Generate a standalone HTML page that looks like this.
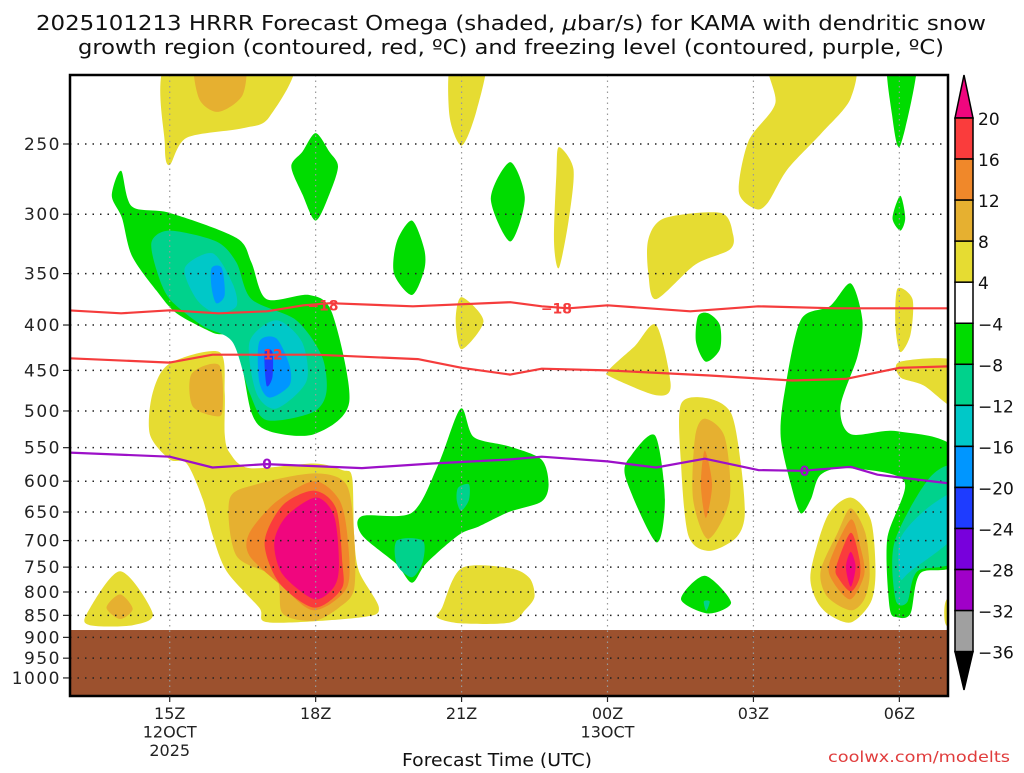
<!DOCTYPE html>
<html><head><meta charset="utf-8">
<style>
html,body{margin:0;padding:0;background:#fff;}
body{width:1024px;height:768px;overflow:hidden;font-family:"Liberation Sans","DejaVu Sans",sans-serif;}
svg text{font-family:"DejaVu Sans","Liberation Sans",sans-serif;}
</style></head>
<body>
<svg id="chart" width="1024" height="768" viewBox="0 0 1024 768" xmlns="http://www.w3.org/2000/svg">
<text x="36" y="30" font-size="20" textLength="950" lengthAdjust="spacingAndGlyphs" fill="#111">2025101213 HRRR Forecast Omega (shaded, <tspan font-style="italic">μ</tspan>bar/s) for KAMA with dendritic snow</text>
<text x="78" y="54" font-size="20" textLength="866" lengthAdjust="spacingAndGlyphs" fill="#111">growth region (contoured, red, ºC) and freezing level (contoured, purple, ºC)</text>
<defs><clipPath id="plotclip"><rect x="70" y="75" width="878" height="621"/></clipPath></defs>
<g id="plot" clip-path="url(#plotclip)"></g>
<g id="overlay"></g>
<text x="402" y="766" font-size="18" textLength="190" lengthAdjust="spacingAndGlyphs" fill="#111">Forecast Time (UTC)</text>
<text x="828" y="762" font-size="15" textLength="182" lengthAdjust="spacingAndGlyphs" fill="#e03c3c">coolwx.com/modelts</text>
</svg>
<script>
// ---- axis data ----
const hourStart = 12.95, hourEnd = 31;
const pTop = 209, pBottom = 1048;
const yTicks = [250,300,350,400,450,500,550,600,650,700,750,800,850,900,950,1000];
const xTickHours = [15,18,21,24,27,30];
const xTickLabels = ["15Z","18Z","21Z","00Z","03Z","06Z"];
const xTickSub1 = ["12OCT","","","13OCT","",""];
const xTickSub2 = ["2025","","","","",""];
const groundPressure = 883;
const cbLevels = [20,16,12,8,4,-4,-8,-12,-16,-20,-24,-28,-32,-36];
const cbColors = ["#fa3c3c","#f0882a","#e6b030","#e6dc32","#ffffff","#00dc00","#00d28c","#00c8c8","#0096ff","#1e3cff","#7800dc","#a000c8","#a0a0a0"];

// ---- omega shaded regions: [hour, pressure] vertices ----
const yellowTop16 = [[15,200],[17.5,200],[17.05,233],[16.5,240],[15.35,246],[15,264],[14.9,251]];
const orangeTop16 = [[15.55,200],[16.5,200],[16.5,220],[16.0,230],[15.6,222]];
const greenLeaf18 = [[18,243],[18.28,255],[18.46,265],[18.28,285],[18,305],[17.73,285],[17.5,265],[17.73,255]];
const greenNW = [[14.0,268],[14.22,294],[15,299],[16.37,319],[16.68,340],[16.99,374],[17.87,370],[18.34,388],[18.69,489],[17.97,531],[17.05,527],[16.68,502],[16.37,418],[15.88,408],[15.14,388],[14.73,366],[14.22,334],[14.02,303],[13.81,286]];
const tealNW = [[14.63,322],[15,313],[15.96,322],[16.37,340],[16.68,374],[17.6,395],[18.13,434],[18.22,477],[17.93,502],[16.99,512],[16.64,477],[16.29,418],[15.68,401],[15,374],[14.73,347]];
const cyanNW1 = [[15.31,345],[15.88,332],[16.29,359],[16.37,381],[15.96,388],[15.55,374]];
const blueNW1 = [[15.86,345],[16.07,345],[16.13,370],[15.96,378],[15.86,363]];
const cyanNW2 = [[16.64,418],[17.19,395],[17.72,418],[17.81,463],[17.19,497],[16.78,477]];
const blueNW2 = [[16.84,418],[17.19,414],[17.46,444],[17.46,468],[17.05,483],[16.84,463]];
const dblueNW = [[16.95,429],[17.11,429],[17.11,458],[16.99,468]];
const yellowBig = [[15,442],[16.02,429],[16.13,477],[16.13,531],[16.23,557],[16.64,580],[17.97,573],[18.55,583],[18.75,594],[18.79,690],[18.89,758],[19.3,833],[18.95,854],[17.05,866],[16.84,833],[16.17,758],[15.88,690],[15.68,629],[15.35,573],[15,567],[14.59,531],[14.65,477]];
const orangeUpper = [[15.45,454],[16.02,444],[16.09,497],[15.96,507],[15.47,494]];
const orangeBig = [[16.23,629],[16.78,605],[17.97,588],[18.63,605],[18.79,690],[18.79,794],[18.48,833],[17.97,862],[17.32,846],[17.19,772],[16.37,728]];
const dorangeBig = [[16.64,686],[17.19,633],[17.97,600],[18.48,629],[18.65,690],[18.65,789],[17.97,839],[17.32,789],[16.64,728]];
const redBig = [[16.95,703],[17.32,639],[17.97,615],[18.42,644],[18.55,743],[18.53,794],[17.97,833],[17.25,781]];
const magBig = [[17.15,703],[17.4,657],[18.01,626],[18.38,657],[18.48,743],[18.38,789],[17.97,815],[17.32,764]];
const yellowBL = [[13.3,846],[13.98,758],[14.65,846],[14.24,872],[13.36,872]];
const orangeBL = [[13.7,833],[13.98,805],[14.24,836],[13.98,858]];
const green21 = [[18.95,657],[19.98,651],[20.53,573],[20.98,497],[21.25,535],[21.97,548],[22.64,567],[22.79,605],[22.64,633],[21.97,650],[21.35,675],[20.94,690],[20.27,743],[19.98,781],[19.65,743],[18.95,690]];
const teal21a = [[20.93,610],[21.15,605],[21.15,630],[20.99,648],[20.9,630]];
const teal21b = [[19.67,700],[20.2,700],[20.2,740],[19.98,770],[19.67,745]];
const yellow22 = [[20.6,833],[21.0,752],[22,752],[22.4,772],[22.5,810],[22.3,839],[22,866],[21.0,868],[20.5,855]];
const yellowTop21 = [[20.8,200],[21.5,200],[21.3,230],[21.0,251],[20.75,232]];
const greenLeaf22 = [[22,262],[22.3,288],[22,322],[21.6,288]];
const greenLeaf20 = [[19.98,305],[20.23,328],[20.23,347],[19.98,370],[19.61,350],[19.67,322]];
const yellow21 = [[21.0,372],[21.45,396],[21.0,426],[20.88,395]];
const yellow23 = [[23,252],[23.3,267],[23.2,305],[23,345],[22.9,322],[22.95,270]];
const yellow00 = [[24.84,320],[25.18,303],[26.33,299],[26.58,316],[26.51,329],[25.8,342],[25.0,374],[24.84,350]];
const yellowTop03 = [[27.35,200],[29,200],[29,222],[28.4,243],[27.7,267],[27.3,291],[27.05,296],[26.7,283],[26.9,248],[27.45,225]];
const greenTop06 = [[29.76,200],[30.37,200],[30.02,251],[29.85,232]];
const greenLeaf06 = [[30.02,286],[30.12,303],[30.02,313],[29.86,303]];
const yellow06 = [[29.96,364],[30.27,374],[30.23,410],[30.02,429],[29.92,401]];
const yellowRight = [[30.02,440],[31.2,440],[31.2,497],[30.5,468],[30.02,458]];
const green01 = [[25.86,391],[26.07,388],[26.31,400],[26.31,426],[26.02,440],[25.82,418]];
const yellow24 = [[25.0,400],[25.3,468],[25.0,480],[24.08,458],[24.02,450],[24.55,423]];
const greenBigR = [[29.0,359],[29.24,395],[29.14,434],[28.79,494],[29.0,531],[29.96,527],[31.2,557],[31.2,736],[30.43,762],[30.23,846],[29.96,854],[29.8,833],[29.75,697],[30.1,600],[28.93,580],[28.38,590],[28.18,629],[27.97,652],[27.77,605],[27.56,535],[27.64,476],[27.97,395],[28.57,381]];
const tealR = [[31.2,584],[30.63,594],[29.9,703],[29.92,815],[30.16,822],[30.37,758],[31.2,731]];
const cyanR = [[31.2,618],[30.57,644],[30.02,697],[30.02,772],[30.23,758],[31.2,686]];
const green00 = [[24.98,533],[25.18,629],[25.0,703],[24.37,594],[24.5,560]];
const yellow02 = [[25.51,491],[26.07,484],[26.54,503],[26.74,573],[26.82,657],[26.62,697],[26.07,719],[25.66,690],[25.51,573]];
const orange02 = [[26.0,510],[26.41,535],[26.51,629],[26.07,697],[25.76,629],[25.8,535]];
const dorange02 = [[26.0,554],[26.15,605],[26.02,660],[25.92,605]];
const green02b = [[25.51,815],[26.0,767],[26.54,822],[26.07,846]];
const teal02b = [[25.98,820],[26.1,820],[26.03,840]];
const yellow05 = [[28.18,758],[28.52,657],[29.0,626],[29.41,663],[29.51,758],[29.41,822],[29.0,866],[28.52,846],[28.26,810]];
const orange05 = [[28.38,758],[28.73,686],[29.0,644],[29.3,686],[29.39,764],[29.28,815],[29.0,839],[28.52,810]];
const dorange05 = [[28.56,743],[29.0,663],[29.2,712],[29.28,764],[29.0,815],[28.65,781]];
const red05 = [[28.7,750],[29.0,686],[29.18,735],[29.18,772],[29.0,799],[28.75,772]];
const mag05 = [[29.0,721],[29.1,750],[29.0,789],[28.9,750]];
const yellowBR = [[30.95,820],[31.2,800],[31.2,880],[30.95,870]];

// ---- contour lines ----
const dgz18Hours = [12.9,14,15,16,17,17.75,18.3,20,22,22.65,23.2,24,25.7,27.1,28.7,31.2];
const dgz18Press = [385,388,385,388,386,380,378,381,377,381,383,380,386,381,383,383];
const dgz12Hours = [12.9,15,15.88,17,18,20.1,21,22,22.65,24,26.1,27.8,28.9,30,31.2];
const dgz12Press = [436,441,432,432,432,437,447,455,448,450,456,462,460,447,445];
const frzHours = [12.9,15,15.88,16.99,18.95,20.4,22,22.65,24,25,26,27.1,28,29,29.55,31.2];
const frzPress = [557,563,579,574,580,573,567,563,570,579,566,583,584,578,590,605];

const L = 70, R = 948, T = 75, B = 696;
const xs = h => L + (h - hourStart) / (hourEnd - hourStart) * (R - L);
const ys = p => T + Math.log(p / pTop) / Math.log(pBottom / pTop) * (B - T);
const NS = "http://www.w3.org/2000/svg";
const plot = document.getElementById('plot');
const overlay = document.getElementById('overlay');
const svg = document.getElementById('chart');
function mk(tag, attrs, parent) { const e = document.createElementNS(NS, tag); for (const k in attrs) e.setAttribute(k, attrs[k]); (parent || svg).appendChild(e); return e; }

function smoothPath(pts) {
  const P = pts.map(q => [xs(q[0]), ys(q[1])]);
  const n = P.length; let d = `M${P[0][0].toFixed(1)},${P[0][1].toFixed(1)}`;
  for (let i = 0; i < n; i++) {
    const p0 = P[(i - 1 + n) % n], p1 = P[i], p2 = P[(i + 1) % n], p3 = P[(i + 2) % n];
    const c1 = [p1[0] + (p2[0] - p0[0]) / 7, p1[1] + (p2[1] - p0[1]) / 7];
    const c2 = [p2[0] - (p3[0] - p1[0]) / 7, p2[1] - (p3[1] - p1[1]) / 7];
    d += ` C${c1[0].toFixed(1)},${c1[1].toFixed(1)} ${c2[0].toFixed(1)},${c2[1].toFixed(1)} ${p2[0].toFixed(1)},${p2[1].toFixed(1)}`;
  }
  return d + 'Z';
}
const Y = "#e6dc32", O8 = "#e6b030", O12 = "#f0882a", RD = "#fa3c3c", MG = "#f0067e", G = "#00dc00", TE = "#00d28c", CY = "#00c8c8", BL = "#0096ff", DB = "#1e3cff";
const regions = [
  ["yellow-top-16z", yellowTop16, Y], ["orange-top-16z", orangeTop16, O8],
  ["green-leaf-18z", greenLeaf18, G],
  ["green-nw", greenNW, G], ["teal-nw", tealNW, TE], ["cyan-nw-1", cyanNW1, CY], ["blue-nw-1", blueNW1, BL],
  ["cyan-nw-2", cyanNW2, CY], ["blue-nw-2", blueNW2, BL], ["darkblue-nw", dblueNW, DB],
  ["yellow-big", yellowBig, Y], ["orange-upper", orangeUpper, O8], ["orange-big", orangeBig, O8],
  ["dorange-big", dorangeBig, O12], ["red-big", redBig, RD], ["magenta-big", magBig, MG],
  ["yellow-bl", yellowBL, Y], ["orange-bl", orangeBL, O8],
  ["green-21z", green21, G], ["teal-21z-a", teal21a, TE], ["teal-21z-b", teal21b, TE],
  ["yellow-22z", yellow22, Y], ["yellow-top-21z", yellowTop21, Y], ["green-leaf-22z", greenLeaf22, G],
  ["green-leaf-20z", greenLeaf20, G], ["yellow-21z", yellow21, Y], ["yellow-23z", yellow23, Y],
  ["yellow-00z", yellow00, Y], ["yellow-top-03z", yellowTop03, Y], ["green-top-06z", greenTop06, G],
  ["green-leaf-06z", greenLeaf06, G], ["yellow-06z", yellow06, Y], ["yellow-right", yellowRight, Y],
  ["green-01z", green01, G], ["yellow-24z", yellow24, Y],
  ["green-big-right", greenBigR, G], ["teal-right", tealR, TE], ["cyan-right", cyanR, CY],
  ["green-00z", green00, G], ["yellow-02z", yellow02, Y], ["orange-02z", orange02, O8], ["dorange-02z", dorange02, O12],
  ["green-02z-low", green02b, G], ["teal-02z-low", teal02b, TE],
  ["yellow-05z", yellow05, Y], ["orange-05z", orange05, O8], ["dorange-05z", dorange05, O12], ["red-05z", red05, RD], ["magenta-05z", mag05, MG],
  ["yellow-br", yellowBR, Y]
];
regions.forEach(r => {
  const e = mk('path', { d: smoothPath(r[1]), fill: r[2] }, plot);
  
  
});
// ground
const ground = mk('rect', { x: L, y: ys(groundPressure), width: R - L, height: B - ys(groundPressure), fill: '#9c512e' }, plot);


// gridlines
yTicks.forEach(p => {
  const g = mk('line', { x1: L, x2: R, y1: ys(p), y2: ys(p), stroke: '#222', 'stroke-width': 1.5, 'stroke-dasharray': '1.5 6' }, plot);
  
  
});
xTickHours.forEach(h => {
  const g = mk('line', { x1: xs(h), x2: xs(h), y1: T, y2: B, stroke: '#999', 'stroke-width': 1.2, 'stroke-dasharray': '1.5 4' }, plot);
  
  
});
// contour lines
function line(hs, ps, color, name) {
  const d = hs.map((h, i) => (i ? 'L' : 'M') + xs(h).toFixed(1) + ',' + ys(ps[i]).toFixed(1)).join(' ');
  const e = mk('path', { d: d, fill: 'none', stroke: color, 'stroke-width': 2.2, 'stroke-linejoin': 'round' }, plot);
  
  
}
line(dgz18Hours, dgz18Press, '#f53c3c', 'contour-minus18');
line(dgz12Hours, dgz12Press, '#f53c3c', 'contour-minus12');
line(frzHours, frzPress, '#9c10c8', 'freezing-level-0');
function clabel(h, p, txt, color, name) {
  const t = mk('text', { x: xs(h), y: ys(p) + 5, 'font-size': 14, 'font-weight': 'bold', 'text-anchor': 'middle', fill: color }, plot);
  t.textContent = txt;
  
  
}
clabel(18.15, 380, '−18', '#f53c3c', 'contour-label-minus18-a');
clabel(22.95, 383, '−18', '#f53c3c', 'contour-label-minus18-b');
clabel(17.0, 432, '−12', '#f53c3c', 'contour-label-minus12');
clabel(17.0, 574, '0', '#9c10c8', 'freezing-label-a');
clabel(28.05, 584, '0', '#9c10c8', 'freezing-label-b');
// frame
const fr = mk('rect', { x: L, y: T, width: R - L, height: B - T, fill: 'none', stroke: '#000', 'stroke-width': 2.5 }, overlay);


// y ticks and labels
yTicks.forEach(p => {
  mk('line', { x1: L - 7, x2: L - 1, y1: ys(p), y2: ys(p), stroke: '#222', 'stroke-width': 1.2 }, overlay);
  const t = mk('text', { x: L - 9, y: ys(p) + 6, 'font-size': 17, 'text-anchor': 'end', 'letter-spacing': 1.5, fill: '#222' }, overlay);
  t.textContent = p;
  
  
});
// x ticks and labels
xTickHours.forEach((h, i) => {
  mk('line', { x1: xs(h), x2: xs(h), y1: B, y2: B + 6, stroke: '#222', 'stroke-width': 1.2 }, overlay);
  [xTickLabels[i], xTickSub1[i], xTickSub2[i]].forEach((s, j) => {
    if (!s) return;
    const t = mk('text', { x: xs(h), y: 719 + j * 18.5, 'font-size': 16, 'text-anchor': 'middle', fill: '#222' }, overlay);
    t.textContent = s;
    
    
  });
});
// colorbar
const cbX = 955, cbW = 18, cbTop = 118, cbStep = 41.05;
const cbg = mk('g', {}, overlay);


const triTop = mk('path', { d: `M${cbX},${cbTop} L${cbX + cbW / 2},75 L${cbX + cbW},${cbTop} Z`, fill: MG, stroke: '#000', 'stroke-width': 1.5 }, cbg);


cbColors.forEach((c, i) => {
  const r = mk('rect', { x: cbX, y: cbTop + i * cbStep, width: cbW, height: cbStep, fill: c, stroke: '#000', 'stroke-width': 1.5 }, cbg);
  
  
});
const botY = cbTop + cbColors.length * cbStep;
const triBot = mk('path', { d: `M${cbX},${botY} L${cbX + cbW / 2},690 L${cbX + cbW},${botY} Z`, fill: '#000', stroke: '#000', 'stroke-width': 1.5 }, cbg);


cbLevels.forEach((v, i) => {
  const t = mk('text', { x: 978, y: cbTop + i * cbStep + 7, 'font-size': 17, fill: '#111' }, cbg);
  t.textContent = v < 0 ? '−' + Math.abs(v) : String(v);
  
  
});
</script>
</body></html>
